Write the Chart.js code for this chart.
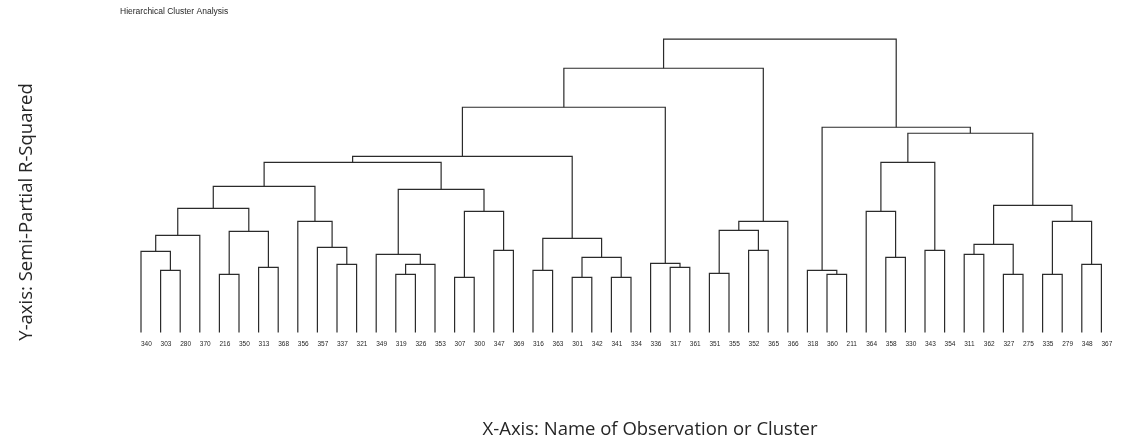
<!DOCTYPE html>
<html>
<head>
<meta charset="utf-8">
<title>Hierarchical Cluster Analysis</title>
<script src="https://cdn.jsdelivr.net/npm/chart.js@4.4.1/dist/chart.umd.min.js"></script>
<style>
  html, body { margin: 0; padding: 0; background: #fff; }
  #wrap { width: 1126px; height: 446px; position: relative; }
</style>
</head>
<body>
<div id="wrap"><canvas id="dendro"></canvas></div>
<script>
/* global Chart */

// leaves, left to right as they sit under the tree
const leafLabels = ['340', '303', '280', '370', '216', '350', '313', '368', '356', '357',
  '337', '321', '349', '319', '326', '353', '307', '300', '347', '369',
  '316', '363', '301', '342', '341', '334', '336', '317', '361', '351',
  '355', '352', '365', '366', '318', '360', '211', '364', '358', '330',
  '343', '354', '311', '362', '327', '275', '335', '279', '348', '367']

// joins, in order: node ids 0-49 are leaves, join k makes node 50 + k
const mergeLeft = [1, 0, 51, 4, 6, 53, 52, 10, 9, 8,
  56, 13, 61, 12, 16, 18, 64, 63, 60, 20,
  22, 24, 70, 69, 68, 27, 26, 74, 29, 31,
  78, 80, 77, 35, 34, 38, 37, 40, 86, 42,
  44, 89, 46, 48, 92, 91, 88, 84, 82]
const mergeRight = [2, 50, 3, 5, 7, 54, 55, 11, 57, 58,
  59, 14, 15, 62, 17, 19, 65, 66, 67, 21,
  23, 25, 71, 72, 73, 28, 75, 76, 30, 32,
  79, 33, 81, 36, 83, 39, 85, 41, 87, 43,
  45, 90, 47, 49, 93, 94, 95, 96, 97]
const mergeHeight = [0.062, 0.081, 0.097, 0.058, 0.065, 0.101, 0.124, 0.068, 0.085, 0.111,
  0.146, 0.058, 0.068, 0.078, 0.055, 0.082, 0.121, 0.143, 0.170, 0.062,
  0.055, 0.055, 0.075, 0.094, 0.176, 0.065, 0.069, 0.225, 0.059, 0.082,
  0.102, 0.111, 0.264, 0.058, 0.062, 0.075, 0.121, 0.082, 0.170, 0.078,
  0.058, 0.088, 0.058, 0.068, 0.111, 0.127, 0.199, 0.205, 0.293]

const chartTitle = 'Hierarchical Cluster Analysis'
const xTitle = 'X-Axis: Name of Observation or Cluster'
const yTitle = 'Y-axis: Semi-Partial R-Squared'

const lineColor = '#2b2b2b'
const textColor = '#262626'

function buildLinks () {
  const nodeX = leafLabels.map((_, i) => i)
  const nodeH = leafLabels.map(() => 0)
  const links = []

  for (let k = 0; k < mergeHeight.length; k++) {
    const a = mergeLeft[k]
    const b = mergeRight[k]
    const h = mergeHeight[k]
    links.push([
      { x: nodeX[a], y: nodeH[a] },
      { x: nodeX[a], y: h },
      { x: nodeX[b], y: h },
      { x: nodeX[b], y: nodeH[b] }
    ])
    nodeX.push((nodeX[a] + nodeX[b]) / 2)
    nodeH.push(h)
  }

  return links
}

// axis names sit off-centre in the original, so they are drawn here
const axisTitles = {
  id: 'axisTitles',
  afterDraw (chart) {
    const ctx = chart.ctx
    ctx.save()
    ctx.font = '18.5px "Open Sans"'
    ctx.fillStyle = textColor
    ctx.textAlign = 'center'
    ctx.textBaseline = 'middle'
    ctx.fillText(xTitle, 650, 430)
    ctx.translate(27, 212)
    ctx.rotate(-Math.PI / 2)
    ctx.fillText(yTitle, 0, 0)
    ctx.restore()
  }
}

const datasets = buildLinks().map((pts) => ({
  data: pts,
  showLine: true,
  borderColor: lineColor,
  borderWidth: 1.2,
  pointRadius: 0,
  pointHoverRadius: 0,
  clip: false
}))

const ctx = document.getElementById('dendro').getContext('2d')
new Chart(ctx, {
  type: 'scatter',
  data: { datasets },
  options: {
    responsive: true,
    maintainAspectRatio: false,
    animation: false,
    events: [],
    layout: {
      padding: { left: 120, right: 0, top: 0, bottom: 89.8 }
    },
    plugins: {
      legend: { display: false },
      tooltip: { enabled: false },
      title: {
        display: true,
        text: chartTitle,
        align: 'start',
        color: textColor,
        font: { family: '"Liberation Sans", Arial, sans-serif', size: 8.5, weight: 'normal' },
        padding: { top: 6.2, bottom: 3.2 }
      }
    },
    scales: {
      x: {
        type: 'linear',
        min: -21 / 19.6,
        max: 49 + 24.6 / 19.6,
        border: { display: false },
        grid: { display: false, drawTicks: false },
        afterBuildTicks: (scale) => {
          scale.ticks = leafLabels.map((_, i) => ({ value: i }))
        },
        ticks: {
          autoSkip: false,
          maxRotation: 0,
          minRotation: 0,
          align: 'start',
          padding: 8,
          color: textColor,
          font: { family: '"Liberation Sans", Arial, sans-serif', size: 6.5 },
          callback: (value) => leafLabels[value]
        }
      },
      y: {
        display: false,
        min: 0,
        max: 0.3126
      }
    }
  },
  plugins: [axisTitles]
})
</script>
</body>
</html>
